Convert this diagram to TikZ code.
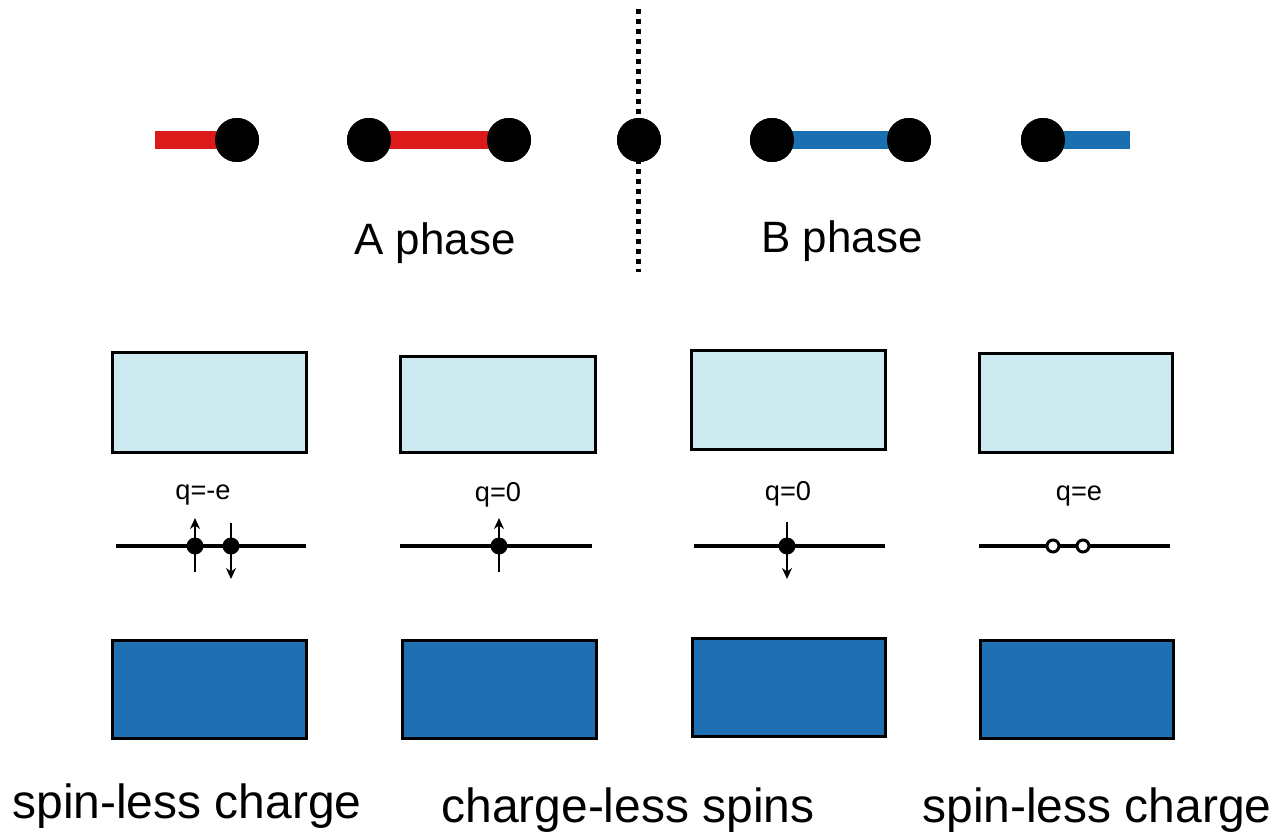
\documentclass[tikz,border=0pt]{standalone}
\usepackage{fontspec}
\setmainfont{Liberation Sans}
\usetikzlibrary{arrows.meta}
\definecolor{redbond}{HTML}{DD1A1A}
\definecolor{bluebond}{HTML}{1A6FB0}
\definecolor{lightbox}{HTML}{CDEAF1}
\definecolor{darkbox}{HTML}{1F70B3}
\tikzset{
  site/.style={circle,fill=black,inner sep=0pt,minimum size=44*0.02cm},
  redb/.style={line width=18*0.02cm,draw=redbond},
  blueb/.style={line width=18*0.02cm,draw=bluebond},
  lbox/.style={draw=black,line width=3*0.02cm,fill=lightbox},
  dbox/.style={draw=black,line width=3*0.02cm,fill=darkbox},
  level/.style={draw=black,line width=3.2*0.02cm},
  edot/.style={circle,fill=black,inner sep=0pt,minimum size=17*0.02cm},
  hdot/.style={circle,draw=black,fill=white,line width=3*0.02cm,inner sep=0pt,minimum size=12*0.02cm},
  spinarr/.style={draw=black,line width=2.5*0.02cm,-{Stealth[length=11*0.02cm,width=10*0.02cm]}},
  phaselbl/.style={font=\fontsize{25}{30}\selectfont,inner sep=0pt},
  qlbl/.style={font=\fontsize{15.5}{18}\selectfont,inner sep=0pt},
  botlbl/.style={font=\fontsize{27.3}{32}\selectfont,inner sep=0pt},
}
\begin{document}
\begin{tikzpicture}[x=0.02cm,y=-0.02cm]
\useasboundingbox (0,0) rectangle (1282,838);
% top chain
\coordinate (rl) at (155,140);
\coordinate (br) at (1130,140);
\node[site] (s1) at (237,140) {};
\node[site] (s2) at (369,140) {};
\node[site] (s3) at (509,140) {};
\node[site] (s4) at (639,140) {};
\node[site] (s5) at (772,140) {};
\node[site] (s6) at (909,140) {};
\node[site] (s7) at (1043,140) {};
\draw[redb] (rl) -- (s1.center);
\draw[redb] (s2.center) -- (s3.center);
\draw[blueb] (s5.center) -- (s6.center);
\draw[blueb] (s7.center) -- (br);
\node[site] at (s1) {};
\node[site] at (s2) {};
\node[site] at (s3) {};
\node[site] at (s5) {};
\node[site] at (s6) {};
\node[site] at (s7) {};
% domain wall
\coordinate (dwt) at (638,9);
\coordinate (dwb) at (638,272);
\draw[line width=5*0.02cm,dash pattern=on 5.5*0.02cm off 4.5*0.02cm] (dwt) -- (dwb);
\node[site] at (s4) {};
\node[phaselbl] (pa) at (435,243) {A phase};
\node[phaselbl] (pb) at (842,241) {B phase};
% light boxes
\draw[lbox] (112,352) rectangle (306,452);
\draw[lbox] (400,356) rectangle (595,452);
\draw[lbox] (691,350) rectangle (885,449);
\draw[lbox] (979,353) rectangle (1172,452);
% dark boxes
\draw[dbox] (112,640) rectangle (306,738);
\draw[dbox] (402,640) rectangle (596,738);
\draw[dbox] (692,638) rectangle (885,736);
\draw[dbox] (980,640) rectangle (1173,738);
% levels
\coordinate (l1a) at (116,546); \coordinate (l1b) at (306,546);
\coordinate (l2a) at (400,546); \coordinate (l2b) at (592,546);
\coordinate (l3a) at (694,546); \coordinate (l3b) at (885,546);
\coordinate (l4a) at (979,546); \coordinate (l4b) at (1170,546);
\draw[level] (l1a) -- (l1b);
\draw[level] (l2a) -- (l2b);
\draw[level] (l3a) -- (l3b);
\draw[level] (l4a) -- (l4b);
% spins
\coordinate (u1a) at (195,572); \coordinate (u1b) at (195,518);
\coordinate (d1a) at (231,523); \coordinate (d1b) at (231,579);
\coordinate (u2a) at (499,572); \coordinate (u2b) at (499,518);
\coordinate (d3a) at (787,522); \coordinate (d3b) at (787,579);
\draw[spinarr] (u1a) -- (u1b);
\draw[spinarr] (d1a) -- (d1b);
\draw[spinarr] (u2a) -- (u2b);
\draw[spinarr] (d3a) -- (d3b);
\node[edot] (e1) at (195,546) {};
\node[edot] (e2) at (231,546) {};
\node[edot] (e3) at (499,546) {};
\node[edot] (e4) at (787,546) {};
\node[hdot] (h1) at (1053,546) {};
\node[hdot] (h2) at (1083,546) {};
\node[qlbl] (q1) at (203,495) {q=-e};
\node[qlbl] (q2) at (498,495) {q=0};
\node[qlbl] (q3) at (788,494) {q=0};
\node[qlbl] (q4) at (1079,496) {q=e};
% bottom labels
\node[botlbl] (b1) at (187,806) {spin-less charge};
\node[botlbl] (b2) at (628,810) {charge-less spins};
\node[botlbl] (b3) at (1097,810) {spin-less charge};
\end{tikzpicture}
\end{document}
